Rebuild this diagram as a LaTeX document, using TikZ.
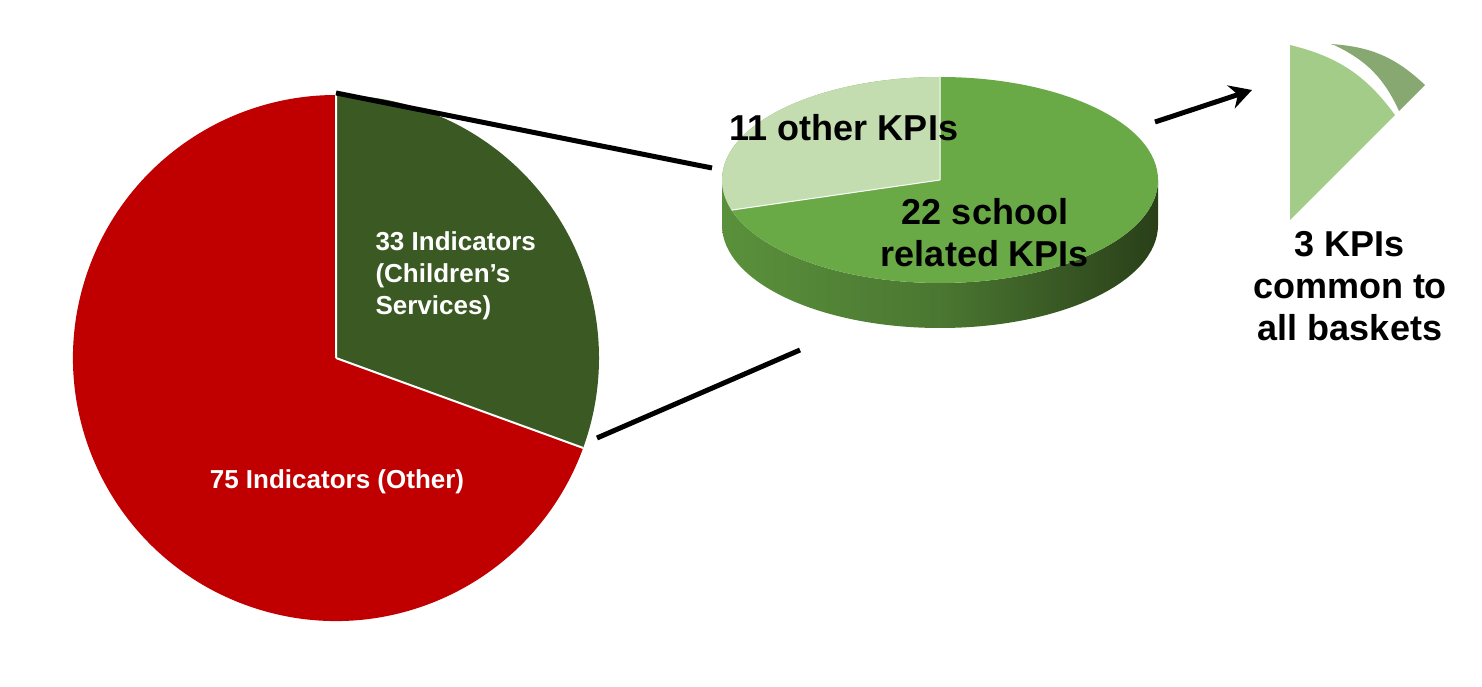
\documentclass[tikz,border=0pt]{standalone}
\usepackage{fontspec}
\setmainfont{Liberation Sans}
\usetikzlibrary{positioning,calc,arrows.meta}
\definecolor{ColorRed}{HTML}{C00000}
\definecolor{ColorDark}{HTML}{3B5A23}
\definecolor{ColorMid}{HTML}{6AAA46}
\definecolor{ColorLight}{HTML}{C3DDB0}
\definecolor{ColorSlice}{HTML}{A3CC88}
\definecolor{ColorSliceB}{HTML}{88A872}
\begin{document}
\begin{tikzpicture}[x=1pt,y=1pt,
	inner/.style={text=white,font=\fontsize{26}{32}\selectfont\bfseries,align=left},
	kpi/.style={font=\fontsize{36}{42}\selectfont\bfseries,align=center},
	zoom/.style={line width=5pt,black},
	post/.style={-{Stealth[length=22pt,width=24pt]},line width=5pt}]
	\useasboundingbox (0,0) rectangle (1482,686);
	
	% Big pie
	\coordinate (P) at (336,328);
	\fill[ColorRed] (P) -- ++(-20:263) arc(-20:-270:263) -- cycle;
	\fill[ColorDark] (P) -- ++(90:263) arc(90:-20:263) -- cycle;
	\draw[white,line width=2pt] (P) -- ++(90:263) (P) -- ++(-20:263);
	\node[inner,anchor=west] (G) at (372,410) {33 Indicators\\(Children{\char"27}s\\Services)};
	\node[inner] (R) at (337,204) {75 Indicators (Other)};
	
	% 3D pie
	\coordinate (Q) at (940,506);
	\shade[left color=ColorMid!85!black,right color=ColorDark!70!black,middle color=ColorMid!70!black]
		(1158,506) -- (1158,461) arc(0:-180:218 and 103) -- (722,506) arc(180:360:218 and 103) -- cycle;
	\fill[ColorMid] (Q) ellipse (218 and 103);
	\fill[ColorLight] (Q) -- ++(0,103) arc(90:197:218 and 103) -- cycle;
	\draw[white,line width=1pt] (Q) -- ++(0,103) (Q) -- ($(Q)+(197:218 and 103)$);
	\node[kpi] (K1) at (844,558) {11 other KPIs};
	\node[kpi] (K2) at (985,453) {22 school\\related KPIs};
	
	% zoom lines
	\coordinate (z1) at (336,593);
	\coordinate (z2) at (712,518);
	\coordinate (z3) at (597,248);
	\coordinate (z4) at (800,336);
	\draw[zoom] (z1) -- (z2);
	\draw[zoom] (z3) -- (z4);
	
	% common slice
	\fill[ColorSlice] (1290,466) -- (1290,641) to[bend left=20] (1395,571) -- cycle;
	\fill[ColorSliceB] (1330,642) to[bend left=20] (1425,601) -- (1399,575) to[bend right=20] (1334,641) -- cycle;
	\coordinate (a1) at (1155,564);
	\coordinate (a2) at (1252,596);
	\draw[post] (a1) -- (a2);
	\node[kpi] (K3) at (1350,400) {3 KPIs\\common to\\all baskets};
\end{tikzpicture}
\end{document}
